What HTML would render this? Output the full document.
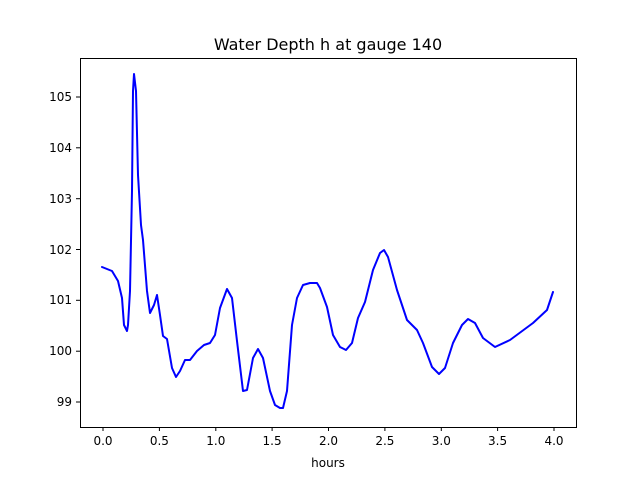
<!DOCTYPE html>
<html><head><style>body{margin:0;background:#fff}svg{display:block;font-family:"DejaVu Sans","Liberation Sans",sans-serif}</style></head>
<body>
<svg width="640" height="480" viewBox="0 0 640 480" xmlns="http://www.w3.org/2000/svg">
<rect width="640" height="480" fill="#fff"/>
<text x="328" y="50" font-size="16" text-anchor="middle">Water Depth h at gauge 140</text>
<polyline fill="none" stroke="#0000ff" stroke-width="2" stroke-linejoin="round" stroke-linecap="round" points="102,267 112,271 118,281 122,298 124,325 127,331 128,325 130,291 132,191 133,91 134,74 136,91 138,175 141,225 143,240 147,291 150,313 154,305 157,295 160,315 163,336 167,339 172,368 176,377 180,371 185,360 190,360 197,351 204,345 210,343 215,335 220,308 227,289 232,298 237,341 243,391 247,390 253,358 258,349 263,358 270,391 275,405 280,408 283,408 287,391 292,325 297,298 303,285 310,283 317,283 320,288 327,307 333,335 340,347 346,350 352,343 358,318 365,302 373,270 380,253 384,250 388,257 397,290 407,320 417,330 423,343 432,367 439,374 445,368 453,343 462,325 468,319 475,323 483,338 495,347 510,340 533,323 547,310 553,292"/>
<rect x="80.5" y="58.5" width="496" height="369" fill="none" stroke="#000" stroke-width="1"/>
<g stroke="#000" stroke-width="1">
<line x1="103" y1="427" x2="103" y2="431"/><line x1="159.4" y1="427" x2="159.4" y2="431"/><line x1="215.8" y1="427" x2="215.8" y2="431"/><line x1="272.1" y1="427" x2="272.1" y2="431"/><line x1="328.5" y1="427" x2="328.5" y2="431"/><line x1="384.9" y1="427" x2="384.9" y2="431"/><line x1="441.3" y1="427" x2="441.3" y2="431"/><line x1="497.6" y1="427" x2="497.6" y2="431"/><line x1="554" y1="427" x2="554" y2="431"/>
<line x1="76" y1="402" x2="80" y2="402"/><line x1="76" y1="351.2" x2="80" y2="351.2"/><line x1="76" y1="300.3" x2="80" y2="300.3"/><line x1="76" y1="249.5" x2="80" y2="249.5"/><line x1="76" y1="198.7" x2="80" y2="198.7"/><line x1="76" y1="147.8" x2="80" y2="147.8"/><line x1="76" y1="97" x2="80" y2="97"/>
</g>
<g font-size="12" text-anchor="middle">
<text x="103" y="445">0.0</text><text x="159.4" y="445">0.5</text><text x="215.8" y="445">1.0</text><text x="272.1" y="445">1.5</text><text x="328.5" y="445">2.0</text><text x="384.9" y="445">2.5</text><text x="441.3" y="445">3.0</text><text x="497.6" y="445">3.5</text><text x="554" y="445">4.0</text>
<text x="328" y="467">hours</text>
</g>
<g font-size="12" text-anchor="end">
<text x="72" y="406">99</text><text x="72" y="355">100</text><text x="72" y="304">101</text><text x="72" y="254">102</text><text x="72" y="203">103</text><text x="72" y="152">104</text><text x="72" y="101">105</text>
</g>
</svg>
</body></html>
